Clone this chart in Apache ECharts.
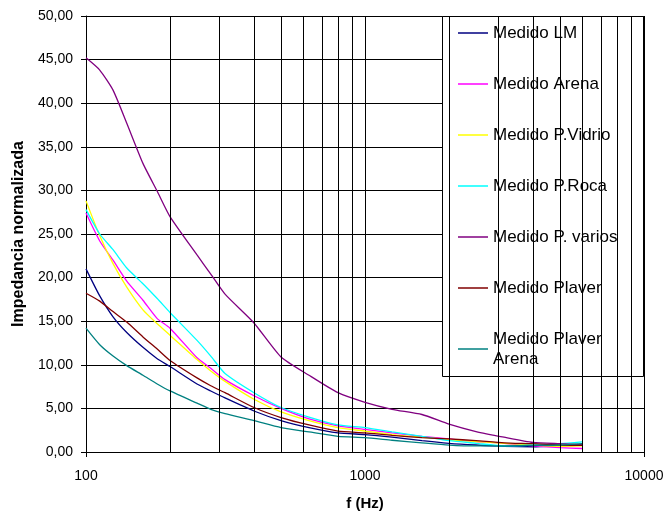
<!DOCTYPE html>
<html>
<head>
<meta charset="utf-8">
<script src="https://cdn.jsdelivr.net/npm/echarts@6/dist/echarts.min.js"></script>
<style>html,body{margin:0;padding:0;background:#fff}#c{width:667px;height:516px}</style>
</head>
<body>
<div id="c"></div>
<script>
var freqs = [100,112,125,140,160,180,200,250,280,315,400,500,630,800,1000,1250,1600,2000,2500,3150,4000,5000,6000];
var medidoLM = [21.0,17.9,15.5,13.7,12.0,10.7,9.8,7.8,7.0,6.2,4.7,3.6,2.8,2.2,2.0,1.7,1.3,1.0,0.8,0.65,0.6,0.7,0.8];
var medidoArena = [27.4,24.2,22.0,19.6,17.4,15.3,14.2,10.8,9.6,8.3,6.45,5.0,3.8,3.0,2.6,2.2,1.8,1.5,1.2,1.0,0.7,0.5,0.4];
var medidoVidrio = [28.8,24.8,21.6,18.9,16.3,14.7,13.4,10.6,9.3,8.1,6.05,4.6,3.6,2.8,2.4,2.0,1.7,1.4,1.2,1.0,0.8,0.65,0.7];
var medidoRoca = [27.8,25.0,23.2,21.1,19.3,17.6,16.0,12.8,11.0,9.0,6.8,5.1,4.0,3.1,2.8,2.3,1.8,1.3,1.0,0.7,0.8,0.95,1.15];
var medidoVarios = [45.2,43.8,41.5,37.7,33.1,29.9,27.0,22.6,20.4,18.1,14.8,10.9,8.8,6.8,5.7,4.9,4.3,3.2,2.35,1.7,1.1,0.95,0.85];
var medidoPlaver = [18.2,17.3,16.1,14.9,13.2,11.8,10.5,8.5,7.6,6.8,5.1,3.95,3.1,2.4,2.2,1.9,1.65,1.5,1.3,1.05,0.95,0.8,0.75];
var medidoPlaverArena = [14.2,12.3,11.0,9.9,8.8,7.8,7.0,5.6,4.9,4.4,3.6,2.8,2.3,1.8,1.65,1.35,1.05,0.8,0.7,0.7,0.75,0.8,0.95];

var seriesNames = ['Medido LM','Medido Arena','Medido P.Vidrio','Medido P.Roca','Medido P. varios','Medido Plaver','Medido Plaver Arena'];
var seriesValues = [medidoLM, medidoArena, medidoVidrio, medidoRoca, medidoVarios, medidoPlaver, medidoPlaverArena];
var seriesColors = ['#000080','#ff00ff','#ffff00','#00ffff','#800080','#800000','#008080'];
var minorGridFreqs = [200,300,400,500,600,700,800,900,2000,3000,4000,5000,6000,7000,8000,9000];
var xTickLabels = {100:'100',1000:'1000',10000:'10000'};

var FONT = '"Liberation Sans", Arial, sans-serif';
var chart = echarts.init(document.getElementById('c'));

var series = [{
  name: '_grid', type: 'line', data: [], z: 1, silent: true,
  markLine: {
    silent: true, symbol: ['none','none'], animation: false,
    label: {show: false},
    lineStyle: {color: '#000', type: 'solid', width: 1},
    emphasis: {disabled: true},
    data: minorGridFreqs.map(function(f){ return {xAxis: f}; })
  }
}];
seriesNames.forEach(function(n, i){
  series.push({
    name: n, type: 'line', showSymbol: false, symbol: 'none',
    smooth: 0.2,
    data: freqs.map(function(f, j){ return [f, seriesValues[i][j]]; }),
    lineStyle: {width: 1.3, color: seriesColors[i]},
    itemStyle: {color: seriesColors[i]},
    z: 2
  });
});

chart.setOption({
  animation: false,
  backgroundColor: '#fff',
  grid: {left: 86, right: 23, top: 16, bottom: 63, containLabel: false},
  xAxis: {
    type: 'log', logBase: 10, min: 100, max: 10000,
    name: 'f (Hz)', nameLocation: 'middle', nameGap: 44,
    nameTextStyle: {fontFamily: FONT, fontSize: 15, fontWeight: 'bold', color: '#000'},
    axisLine: {show: true, lineStyle: {color: '#000', width: 1}},
    axisTick: {show: true, length: 5, lineStyle: {color: '#000'}},
    minorTick: {show: false},
    splitLine: {show: true, lineStyle: {color: '#000', width: 1}},
    axisLabel: {fontFamily: FONT, fontSize: 14, color: '#000', margin: 17,
      formatter: function(v){ return xTickLabels[Math.round(v)] || ''; }}
  },
  yAxis: {
    type: 'value', min: 0, max: 50, interval: 5,
    name: 'Impedancia normalizada', nameLocation: 'middle', nameGap: 59,
    nameTextStyle: {fontFamily: FONT, fontSize: 16, fontWeight: 'bold', color: '#000'},
    axisLine: {show: true, lineStyle: {color: '#000', width: 1}},
    axisTick: {show: true, length: 5, lineStyle: {color: '#000'}},
    splitLine: {show: true, lineStyle: {color: '#000', width: 1}},
    axisLabel: {fontFamily: FONT, fontSize: 14, color: '#000', margin: 13,
      formatter: function(v){ return v.toFixed(2).replace('.', ','); }}
  },
  graphic: [{
    type: 'rect', z: 3, silent: true,
    shape: {x: 442.5, y: 16.5, width: 201, height: 360},
    style: {fill: '#fff', stroke: '#000', lineWidth: 1}
  }],
  legend: {
    show: true, orient: 'vertical', left: 458, top: 23, padding: 0,
    itemWidth: 30, itemHeight: 1.5, itemGap: 31, icon: 'rect', z: 4,
    data: seriesNames,
    formatter: function(n){ return n === 'Medido Plaver Arena' ? 'Medido Plaver\nArena' : n; },
    textStyle: {fontFamily: FONT, fontSize: 17, color: '#000', lineHeight: 20},
    selectedMode: false
  },
  series: series
});
</script>
</body>
</html>
